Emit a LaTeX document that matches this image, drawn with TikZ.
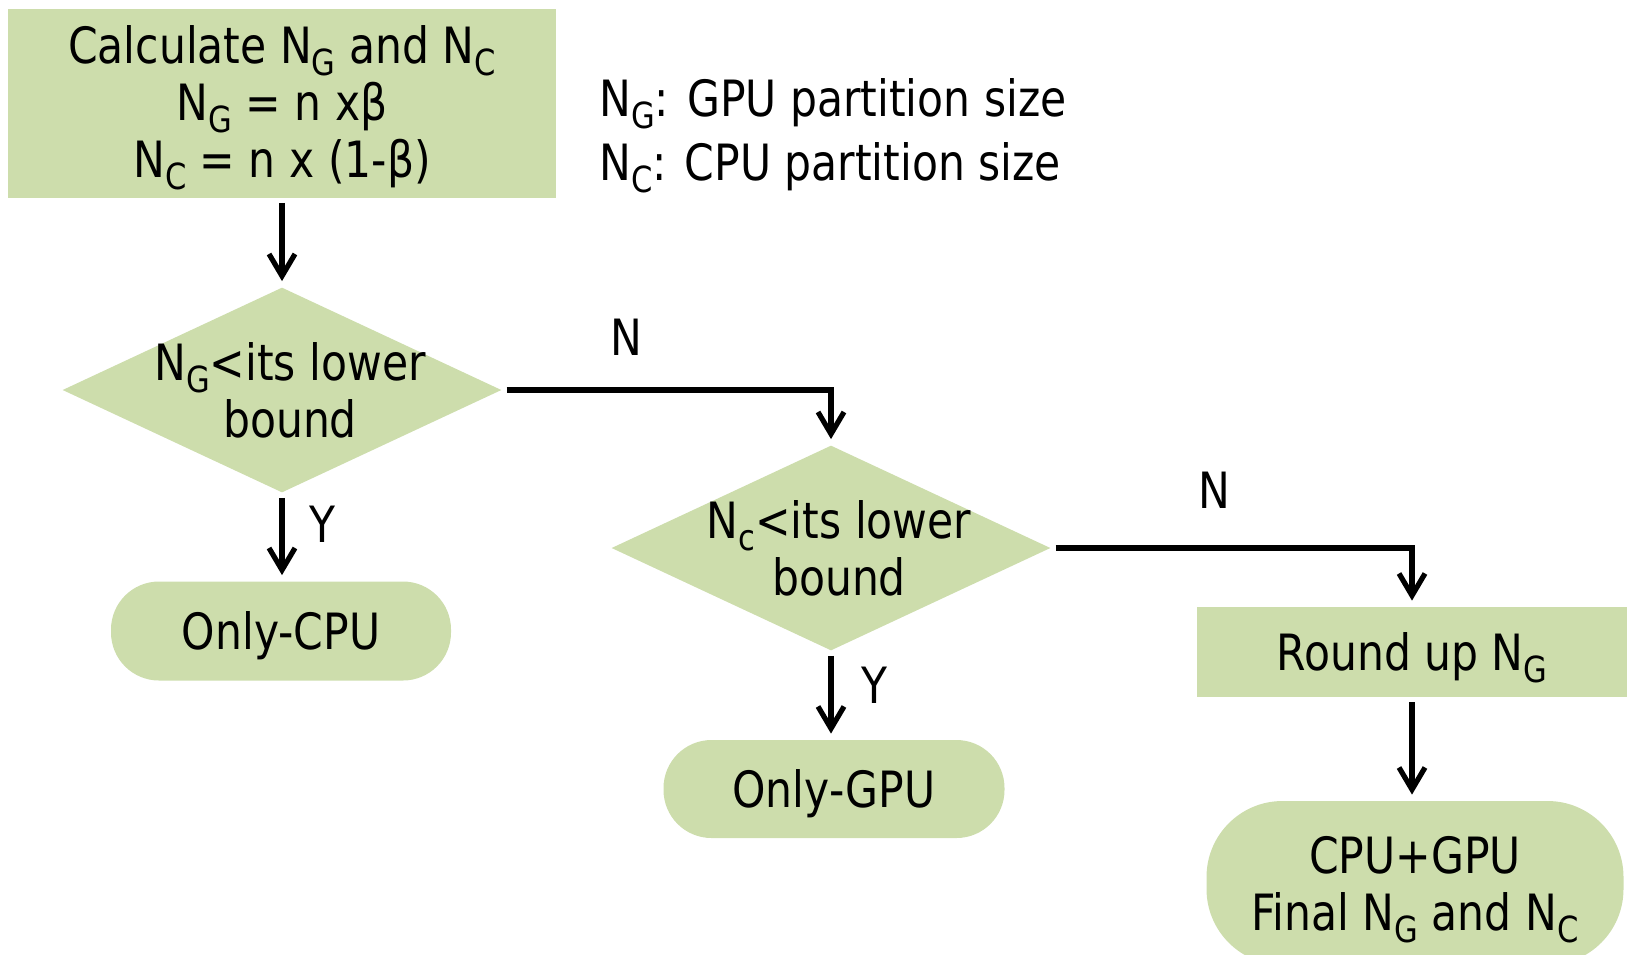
\documentclass[tikz,border=0pt]{standalone}
\usepackage{fontspec}
\setmainfont{DejaVu Sans}[FakeStretch=0.85]
\usetikzlibrary{shapes.geometric,arrows.meta}
\definecolor{flowgreen}{RGB}{205,221,172}
% lowered, smaller index letter (N_G, N_C)
\newcommand\lowsub[1]{\raisebox{-6pt}{\fontsize{18}{18}\selectfont #1}}

\begin{document}
\begin{tikzpicture}[x=0.5pt,y=-0.5pt,
  font=\fontsize{25}{28.5}\selectfont,
  flowbox/.style={rectangle, fill=flowgreen, inner sep=0pt, align=center},
  term/.style={flowbox, rounded corners=24pt},
  oneline/.style={text height=18.2pt, text depth=0pt},
  decision/.style={diamond, fill=flowgreen, inner sep=0pt,
                   minimum width=219.5pt, minimum height=102.5pt},
  conn/.style={line width=2.6pt, -{Straight Barb[length=11pt,width=13pt]},
               shorten <=2.5pt, shorten >=3pt},
  arm/.style={line width=3.3pt, shorten <=2.5pt},
  tag/.style={inner sep=0pt}]
\useasboundingbox (0,0) rectangle (1627,954);

% process boxes
\node[flowbox, minimum width=274pt, minimum height=94.5pt, text depth=2pt] (calc) at (282,103)
  {Calculate N\lowsub{G} and N\lowsub{C}\\ N\lowsub{G} = n xβ\\ N\lowsub{C} = n x (1-β)};
\node[flowbox, oneline, minimum width=215pt, minimum height=45pt] (round) at (1412,652)
  {Round up N\lowsub{G}};

% decisions
\node[decision, label={[tag, xshift=4pt, align=center]center:{N\lowsub{G}<its lower\\bound}}]
  (d1) at (282,390) {};
\node[decision, label={[tag, xshift=4pt, align=center]center:{N\lowsub{c}<its lower\\bound}}]
  (d2) at (831,548) {};

% terminals
\node[term, oneline, minimum width=170pt, minimum height=49.5pt] (cpu) at (281,631) {Only-CPU};
\node[term, oneline, minimum width=170.5pt, minimum height=49pt] (gpu) at (834,789) {Only-GPU};
\node[term, rounded corners=38pt, minimum width=208.5pt, minimum height=82pt, text depth=0pt]
  (final) at (1415,883) {CPU+GPU\\ Final N\lowsub{G} and N\lowsub{C}};

% legend
\node[tag, align=left, font=\fontsize{25}{32}\selectfont] (legend) at (833,136)
  {N\lowsub{G}: GPU partition size\\ N\lowsub{C}: CPU partition size};

% connectors
\draw[conn] (calc) -- (d1);
\draw[conn] (d1.east) -| (d2.north);
\draw[arm] (d1.east) -- (d1.east -| d2.north);
\draw[conn] (d1.south) -- (d1.south |- cpu.north);
\draw[conn] (d2.east) -| (round.north);
\draw[arm] (d2.east) -- (d2.east -| round.north);
\draw[conn] (d2.south) -- (d2.south |- gpu.north);
\draw[conn] (round.south) -- (round.south |- final.north);

% branch labels
\node[tag] (n1) at (626,337) {N};
\node[tag] (y1) at (322,524) {Y};
\node[tag] (n2) at (1214,490) {N};
\node[tag] (y2) at (874,685) {Y};
\end{tikzpicture}
\end{document}
